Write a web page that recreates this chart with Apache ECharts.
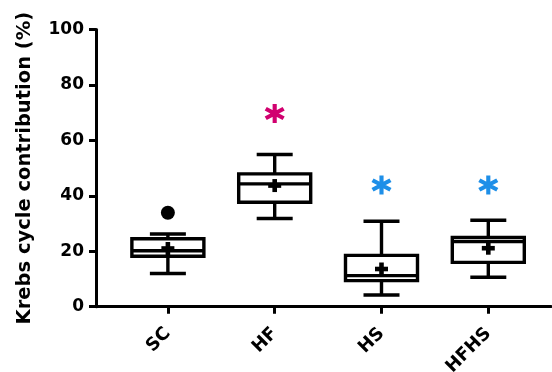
<!DOCTYPE html>
<html>
<head>
<meta charset="utf-8">
<script src="https://cdn.jsdelivr.net/npm/echarts@6/dist/echarts.min.js"></script>
<style>html,body{margin:0;padding:0;background:#fff}#c{width:552px;height:372px}</style>
</head>
<body>
<div id="c"></div>
<script>
var categories = ['SC', 'HF', 'HS', 'HFHS'];
var whiskerMin = [12.0, 31.8, 4.2, 10.6];
var q1 = [18.2, 37.7, 9.4, 16.0];
var median = [20.2, 44.3, 11.2, 23.5];
var q3 = [24.5, 47.9, 18.5, 25.0];
var whiskerMax = [26.2, 54.9, 30.8, 31.2];
var means = [21.0, 43.7, 13.6, 21.1];
var outliers = [[0, 33.9]];
var magentaStars = [[1, 69.7]];
var blueStars = [[2, 43.9], [3, 43.9]];
var yTicks = [0, 20, 40, 60, 80, 100];

var boxData = categories.map(function (c, i) {
  return [i, whiskerMin[i], q1[i], median[i], q3[i], whiskerMax[i], means[i]];
});

var starPath = 'path://M 12 0 L 12 20 L 8 20 L 8 0 Z M 2.34 3.268 L 19.66 13.268 L 17.66 16.732 L 0.34 6.732 Z M 0.34 13.268 L 17.66 3.268 L 19.66 6.732 L 2.34 16.732 Z';

var LW = 3.4, BOXW = 72, CAPW = 36;

function renderBox(params, api) {
  var x = api.value(0);
  var pMin = api.coord([x, api.value(1)]);
  var pQ1 = api.coord([x, api.value(2)]);
  var pMed = api.coord([x, api.value(3)]);
  var pQ3 = api.coord([x, api.value(4)]);
  var pMax = api.coord([x, api.value(5)]);
  var pMean = api.coord([x, api.value(6)]);
  var cx = pMed[0];
  var st = { stroke: '#000', lineWidth: LW, fill: null };
  var children = [
    { type: 'line', shape: { x1: cx, y1: pQ3[1], x2: cx, y2: pMax[1] }, style: st },
    { type: 'line', shape: { x1: cx, y1: pQ1[1], x2: cx, y2: pMin[1] }, style: st },
    { type: 'line', shape: { x1: cx - CAPW / 2, y1: pMax[1], x2: cx + CAPW / 2, y2: pMax[1] }, style: st },
    { type: 'line', shape: { x1: cx - CAPW / 2, y1: pMin[1], x2: cx + CAPW / 2, y2: pMin[1] }, style: st },
    { type: 'rect', shape: { x: cx - BOXW / 2, y: pQ3[1], width: BOXW, height: pQ1[1] - pQ3[1] }, style: { stroke: '#000', lineWidth: LW, fill: '#fff' } },
    { type: 'line', shape: { x1: cx - BOXW / 2, y1: pMed[1], x2: cx + BOXW / 2, y2: pMed[1] }, style: st },
    { type: 'rect', shape: { x: cx - 6.5, y: pMean[1] - 2.3, width: 13, height: 4.6 }, style: { fill: '#000' } },
    { type: 'rect', shape: { x: cx - 2.3, y: pMean[1] - 6.5, width: 4.6, height: 13 }, style: { fill: '#000' } }
  ];
  return { type: 'group', children: children };
}

var chart = echarts.init(document.getElementById('c'), null, { renderer: 'canvas' });
var font = 'DejaVu Sans';
chart.setOption({
  animation: false,
  backgroundColor: '#fff',
  grid: { left: 96, right: 1, top: 29.5, bottom: 65.3, containLabel: false, outerBoundsMode: 'none' },
  xAxis: {
    type: 'value',
    min: -0.673,
    max: 3.587,
    splitLine: { show: false },
    axisLine: { show: true, onZero: false, lineStyle: { color: '#000', width: 3 } },
    axisTick: { show: true, customValues: [0, 1, 2, 3], length: 7, lineStyle: { color: '#000', width: 3 } },
    axisLabel: {
      customValues: [0, 1, 2, 3],
      rotate: 45,
      margin: 24,
      color: '#000',
      fontFamily: font,
      fontWeight: 'bold',
      fontSize: 18,
      formatter: function (v) { return categories[Math.round(v)]; }
    }
  },
  yAxis: {
    type: 'value',
    min: 0,
    max: 100,
    interval: 20,
    name: 'Krebs cycle contribution (%)',
    nameLocation: 'middle',
    nameGap: 61,
    nameTextStyle: { color: '#000', fontFamily: font, fontWeight: 'bold', fontSize: 19.5 },
    splitLine: { show: false },
    axisLine: { show: true, onZero: false, lineStyle: { color: '#000', width: 3 } },
    axisTick: { show: true, length: 7, lineStyle: { color: '#000', width: 3 } },
    axisLabel: {
      margin: 12,
      color: '#000',
      fontFamily: font,
      fontWeight: 'bold',
      fontSize: 17,
      customValues: yTicks
    }
  },
  series: [
    {
      type: 'custom',
      renderItem: renderBox,
      data: boxData,
      encode: { x: 0, y: [1, 2, 3, 4, 5, 6] },
      clip: false,
      z: 2
    },
    {
      type: 'scatter',
      data: outliers,
      symbol: 'circle',
      symbolSize: 14,
      itemStyle: { color: '#000', opacity: 1 },
      z: 3
    },
    {
      type: 'scatter',
      data: magentaStars,
      symbol: starPath,
      symbolSize: [20, 19],
      itemStyle: { color: '#D1006F', opacity: 1 },
      z: 3
    },
    {
      type: 'scatter',
      data: blueStars,
      symbol: starPath,
      symbolSize: [20, 19],
      itemStyle: { color: '#1E8FE8', opacity: 1 },
      z: 3
    }
  ]
});
</script>
</body>
</html>
